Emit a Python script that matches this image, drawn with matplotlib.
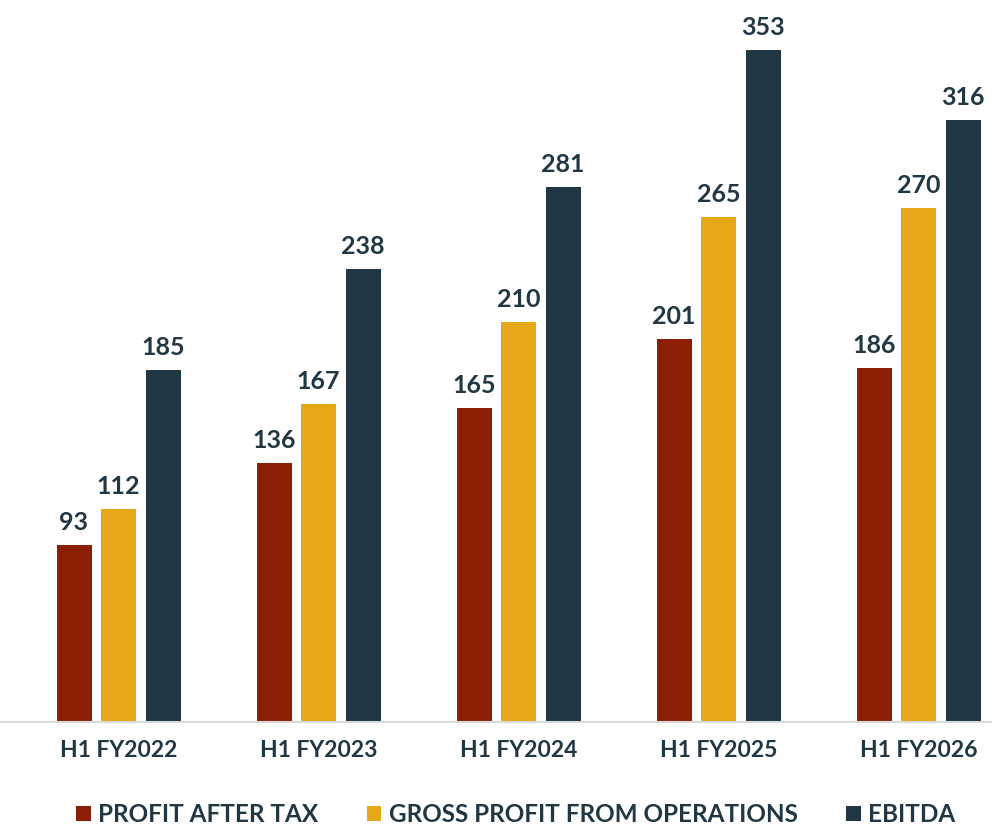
import numpy as np
import matplotlib.pyplot as plt
from matplotlib.patches import Patch

periods = ['H1 FY2022', 'H1 FY2023', 'H1 FY2024', 'H1 FY2025', 'H1 FY2026']
series_names = ['PROFIT AFTER TAX', 'GROSS PROFIT FROM OPERATIONS', 'EBITDA']
profit_after_tax = [93, 136, 165, 201, 186]
gross_profit = [112, 167, 210, 265, 270]
ebitda = [185, 238, 281, 353, 316]
colors = ['#8B1E05', '#E6A817', '#213744']
text_color = '#213744'

plt.rcParams['font.family'] = ['Lato', 'DejaVu Sans']

fig = plt.figure(figsize=(9.92, 8.26), dpi=100)
ax = fig.add_axes([0, 0.1259, 1, 0.874])

x = np.arange(len(periods))
width = 0.175
step = 0.2225
for i, (vals, c) in enumerate(zip([profit_after_tax, gross_profit, ebitda], colors)):
    pos = x + (i - 1) * step
    ax.bar(pos, vals, width=width, color=c)
    for p, v in zip(pos, vals):
        ax.annotate(str(v), (p, v), xytext=(0, 8), textcoords='offset points',
                    ha='center', va='bottom', fontsize=18, fontweight='bold',
                    color=text_color)

ax.set_xlim(-0.5925, 4.3675)
ax.set_ylim(0, 379.2)
ax.set_xticks(x)
ax.set_xticklabels(periods, fontsize=16.5, fontweight='bold', color=text_color)
ax.tick_params(axis='x', length=0, pad=13)
ax.set_yticks([])
for s in ['top', 'right', 'left']:
    ax.spines[s].set_visible(False)
ax.spines['bottom'].set_color('#D9D9D9')
ax.spines['bottom'].set_linewidth(1.5)

handles = [Patch(facecolor=c, label=n) for c, n in zip(colors, series_names)]
leg = fig.legend(handles=handles, loc='center', bbox_to_anchor=(0.52, 0.014),
                 ncol=3, frameon=False, handlelength=0.6, handleheight=0.6,
                 handletextpad=0.3, columnspacing=2.0,
                 prop={'size': 17.5, 'weight': 'bold'})
for t in leg.get_texts():
    t.set_color(text_color)

fig.savefig('out.png', dpi=100)
